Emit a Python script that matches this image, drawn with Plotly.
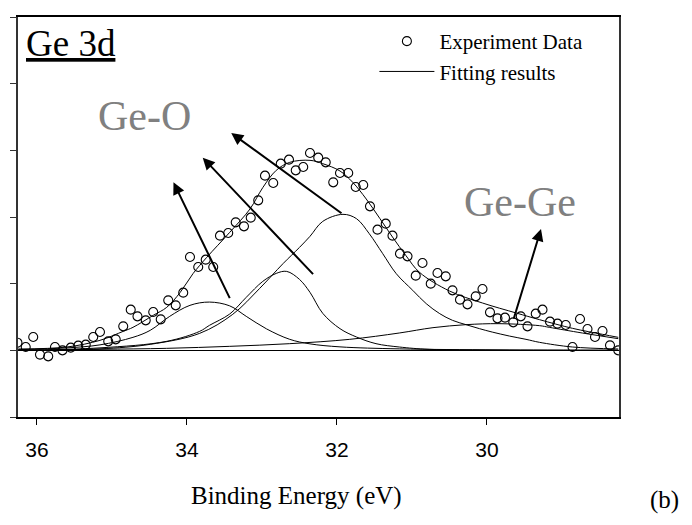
import plotly.graph_objects as go

# ---------------- data ----------------
exp_be = [36.26, 36.15, 36.05, 35.96, 35.85, 35.76, 35.66, 35.55, 35.45, 35.35,
          35.25, 35.16, 35.05, 34.95, 34.85, 34.75, 34.66, 34.55, 34.45, 34.35,
          34.25, 34.15, 34.05, 33.96, 33.85, 33.75, 33.65, 33.56, 33.45, 33.35,
          33.24, 33.15, 33.05, 32.96, 32.85, 32.75, 32.64, 32.55, 32.45, 32.36,
          32.25, 32.15, 32.05, 31.96, 31.85, 31.75, 31.65, 31.56, 31.46, 31.35,
          31.26, 31.16, 31.06, 30.95, 30.86, 30.75, 30.66, 30.55, 30.46, 30.36,
          30.26, 30.15, 30.06, 29.96, 29.86, 29.76, 29.65, 29.55, 29.46, 29.35,
          29.26, 29.16, 29.06, 28.95, 28.86, 28.76, 28.66, 28.56, 28.46, 28.36,
          28.25]
exp_int = [0.115, 0.05, 0.20, -0.064, -0.09, 0.05, 0.0, 0.04, 0.07, 0.085,
           0.20, 0.275, 0.135, 0.165, 0.36, 0.61, 0.51, 0.45, 0.575, 0.465,
           0.75, 0.675, 0.865, 1.40, 1.25, 1.36, 1.25, 1.72, 1.76, 1.92,
           1.86, 1.99, 2.25, 2.62, 2.51, 2.80, 2.86, 2.70, 2.75, 2.96,
           2.89, 2.82, 2.52, 2.66, 2.66, 2.45, 2.48, 2.16, 1.81, 1.90,
           1.72, 1.45, 1.41, 1.12, 1.31, 1.00, 1.16, 1.11, 0.90, 0.76,
           0.69, 0.81, 0.92, 0.57, 0.48, 0.49, 0.42, 0.51, 0.36, 0.55,
           0.61, 0.43, 0.40, 0.38, 0.05, 0.47, 0.32, 0.20, 0.29, 0.075,
           0.0]

env_be = [36.25, 35.60, 35.16, 34.85, 34.72, 34.45, 34.27, 34.09, 33.92, 33.74,
          33.43, 33.16, 32.99, 32.81, 32.63, 32.36, 32.19, 31.96, 31.79, 31.61,
          31.43, 31.26, 31.08, 30.90, 30.50, 30.06, 29.61, 29.30, 28.86, 28.46,
          28.25]
env_int = [0.02, 0.05, 0.15, 0.285, 0.345, 0.525, 0.645, 0.87, 1.15, 1.39,
           1.77, 2.12, 2.44, 2.70, 2.82, 2.85, 2.80, 2.69, 2.52, 2.27,
           1.98, 1.70, 1.42, 1.17, 0.89, 0.71, 0.56, 0.46, 0.33, 0.24,
           0.195]

p1_be = [36.25, 35.60, 35.16, 34.72, 34.49, 34.23, 33.96, 33.70, 33.43, 33.21,
         32.94, 32.63, 32.36, 31.96, 31.17, 29.84, 28.25]
p1_int = [0.01, 0.037, 0.082, 0.195, 0.30, 0.51, 0.675, 0.724, 0.667, 0.51,
          0.322, 0.165, 0.097, 0.052, 0.022, 0.007, 0.003]

p2_be = [36.25, 35.16, 34.27, 33.83, 33.70, 33.43, 33.21, 32.99, 32.81, 32.67,
         32.50, 32.36, 32.19, 31.96, 31.74, 31.48, 31.17, 30.77, 29.84, 28.25]
p2_int = [0.0, 0.037, 0.135, 0.285, 0.375, 0.545, 0.795, 1.034, 1.154, 1.184,
          1.064, 0.87, 0.555, 0.325, 0.20, 0.10, 0.05, 0.015, 0.003, 0.0]

p3_be = [36.25, 35.16, 34.49, 33.83, 33.39, 33.03, 32.72, 32.50, 32.36, 32.19,
         31.92, 31.74, 31.57, 31.39, 31.21, 30.99, 30.81, 30.63, 30.46, 30.28,
         30.10, 29.93, 29.70, 29.48, 29.30, 28.86, 28.25]
p3_int = [0.0, 0.022, 0.09, 0.255, 0.54, 0.93, 1.30, 1.544, 1.71, 1.934,
          2.04, 1.975, 1.75, 1.45, 1.15, 0.90, 0.70, 0.55, 0.45, 0.385,
          0.325, 0.274, 0.214, 0.165, 0.12, 0.05, 0.02]

p4_be = [36.25, 35.16, 34.27, 33.43, 32.63, 31.83, 31.17, 30.72, 30.28, 29.84,
         29.30, 29.17, 28.73, 28.25]
p4_int = [0.0, 0.015, 0.03, 0.06, 0.10, 0.165, 0.26, 0.34, 0.385, 0.40,
          0.37, 0.345, 0.26, 0.175]

x_ticks = [36, 34, 32, 30]
y_ticks = [-1, 0, 1, 2, 3, 4, 5]

# arrows: (tip_x, tip_y, tail_x, tail_y)
arrows = [(34.18, 2.52, 33.42, 0.76),
          (33.79, 2.89, 32.30, 1.12),
          (33.41, 3.26, 31.92, 2.04),
          (29.28, 1.82, 29.65, 0.45)]

labels = [("Ge-O", 34.57, 3.51), ("Ge-Ge", 29.56, 2.23)]

# ---------------- figure ----------------
SERIF = "Liberation Serif, Times New Roman, serif"
SANS = "Liberation Sans, Arial, sans-serif"

fig = go.Figure()

fig.add_trace(go.Scatter(
    x=exp_be, y=exp_int, mode="markers", name="Experiment Data",
    marker=dict(symbol="circle-open", size=9, color="black",
                line=dict(width=1.1, color="black"))))

curve_sets = [(env_be, env_int), (p1_be, p1_int), (p2_be, p2_int),
              (p3_be, p3_int), (p4_be, p4_int)]
for i, (xs, ys) in enumerate(curve_sets):
    fig.add_trace(go.Scatter(
        x=xs, y=ys, mode="lines", name="Fitting results",
        showlegend=(i == 0),
        line=dict(color="black", width=1, shape="spline", smoothing=1.0)))

for tx, ty, ax, ay in arrows:
    fig.add_annotation(x=tx, y=ty, ax=ax, ay=ay, xref="x", yref="y",
                       axref="x", ayref="y", text="", showarrow=True,
                       arrowhead=2, arrowsize=1.2, arrowwidth=2,
                       arrowcolor="black", standoff=0, startstandoff=0)

for txt, lx, ly in labels:
    fig.add_annotation(x=lx, y=ly, xref="x", yref="y", text=txt,
                       showarrow=False, xanchor="center", yanchor="middle",
                       font=dict(family=SERIF, size=42, color="#808080"))

fig.add_annotation(x=0.088, y=0.934, xref="paper", yref="paper",
                   text="<u>Ge 3d</u>", showarrow=False,
                   xanchor="center", yanchor="middle",
                   font=dict(family=SERIF, size=37, color="black"))

fig.add_annotation(x=0.464, y=-0.198, xref="paper", yref="paper",
                   text="Binding Energy (eV)", showarrow=False,
                   xanchor="center", yanchor="middle",
                   font=dict(family=SERIF, size=25, color="black"))

fig.add_annotation(x=1.075, y=-0.208, xref="paper", yref="paper",
                   text="(b)", showarrow=False,
                   xanchor="center", yanchor="middle",
                   font=dict(family=SERIF, size=25, color="black"))

# the page body keeps an 8px margin, so the figure is sized to fit inside it
fig.update_layout(
    width=676, height=509,
    margin=dict(l=10, r=65, t=8.7, b=100.3),
    paper_bgcolor="white", plot_bgcolor="white",
    showlegend=True,
    legend=dict(x=0.593, y=0.99, xanchor="left", yanchor="top",
                bgcolor="rgba(0,0,0,0)", borderwidth=0,
                font=dict(family=SERIF, size=21, color="black"),
                itemwidth=55, tracegroupgap=0),
    xaxis=dict(range=[36.253, 28.24], autorange=False, automargin=False,
               tickvals=x_ticks, ticktext=[str(v) for v in x_ticks],
               ticks="outside", ticklen=6, tickwidth=1.2, tickcolor="black",
               showline=True, linecolor="black", linewidth=1.5, mirror=True,
               showgrid=False, zeroline=False,
               tickfont=dict(family=SANS, size=21, color="black"),
               ticklabelstandoff=7),
    yaxis=dict(range=[-1, 5], autorange=False, automargin=False,
               tickvals=y_ticks,
               showticklabels=False, ticks="outside", ticklen=6,
               tickwidth=1.2, tickcolor="#333",
               showline=True, linecolor="#333", linewidth=1.5, mirror=True,
               showgrid=False, zeroline=True, zerolinecolor="black",
               zerolinewidth=1.2),
)

fig.write_html("out.html")
